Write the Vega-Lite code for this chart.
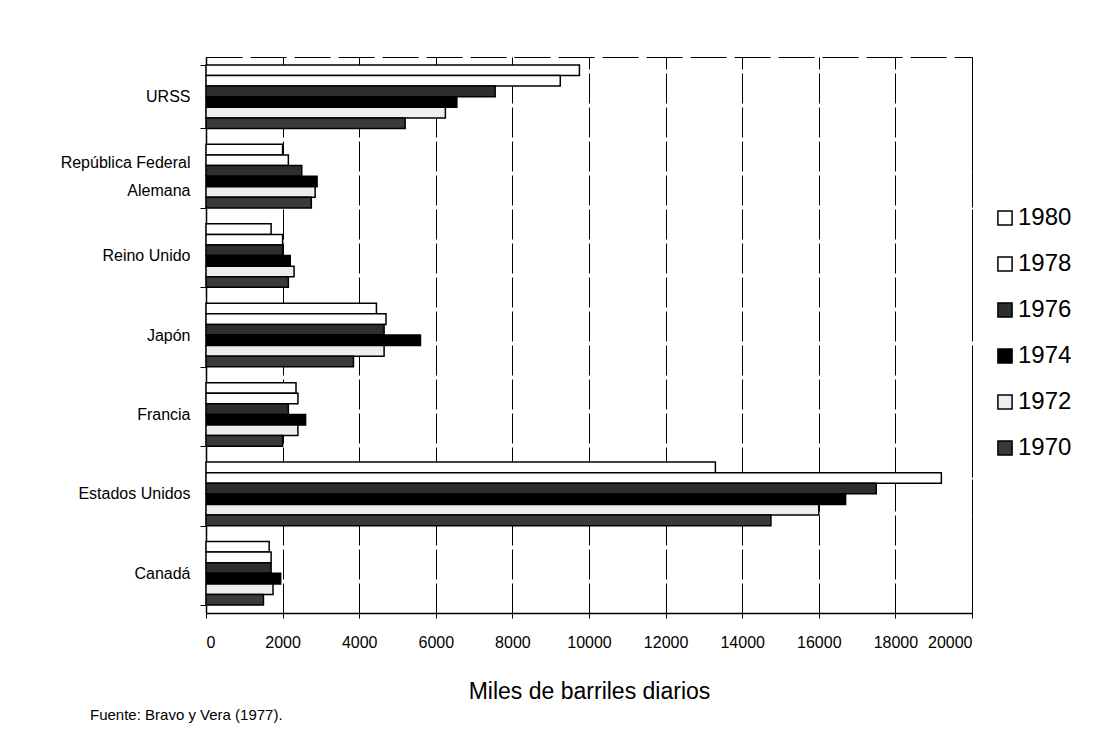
{
  "$schema": "https://vega.github.io/schema/vega-lite/v6.json",
  "autosize": {"type": "none"},
  "padding": {"left": 206, "top": 57, "right": 124, "bottom": 130},
  "width": 766,
  "height": 556,
  "background": "white",
  "config": {
    "font": "Liberation Sans",
    "view": {"stroke": "black", "strokeWidth": 1, "strokeDash": [36, 8]},
    "axis": {"labelColor": "black", "titleColor": "black", "domainColor": "black", "tickColor": "black"}
  },
  "title": {
    "text": "Fuente: Bravo y Vera (1977).",
    "orient": "bottom",
    "anchor": "start",
    "frame": "group",
    "dx": -116,
    "offset": 5,
    "fontSize": 15,
    "fontWeight": "normal",
    "font": "Liberation Sans",
    "color": "black"
  },
  "data": {
    "values": [
      {"pais": "URSS", "anio": "1980", "valor": 9750},
      {"pais": "URSS", "anio": "1978", "valor": 9250},
      {"pais": "URSS", "anio": "1976", "valor": 7550},
      {"pais": "URSS", "anio": "1974", "valor": 6550},
      {"pais": "URSS", "anio": "1972", "valor": 6250},
      {"pais": "URSS", "anio": "1970", "valor": 5200},
      {"pais": "República Federal Alemana", "anio": "1980", "valor": 2000},
      {"pais": "República Federal Alemana", "anio": "1978", "valor": 2150},
      {"pais": "República Federal Alemana", "anio": "1976", "valor": 2500},
      {"pais": "República Federal Alemana", "anio": "1974", "valor": 2900},
      {"pais": "República Federal Alemana", "anio": "1972", "valor": 2850},
      {"pais": "República Federal Alemana", "anio": "1970", "valor": 2750},
      {"pais": "Reino Unido", "anio": "1980", "valor": 1700},
      {"pais": "Reino Unido", "anio": "1978", "valor": 2000},
      {"pais": "Reino Unido", "anio": "1976", "valor": 2000},
      {"pais": "Reino Unido", "anio": "1974", "valor": 2200},
      {"pais": "Reino Unido", "anio": "1972", "valor": 2300},
      {"pais": "Reino Unido", "anio": "1970", "valor": 2150},
      {"pais": "Japón", "anio": "1980", "valor": 4450},
      {"pais": "Japón", "anio": "1978", "valor": 4700},
      {"pais": "Japón", "anio": "1976", "valor": 4650},
      {"pais": "Japón", "anio": "1974", "valor": 5600},
      {"pais": "Japón", "anio": "1972", "valor": 4650},
      {"pais": "Japón", "anio": "1970", "valor": 3850},
      {"pais": "Francia", "anio": "1980", "valor": 2350},
      {"pais": "Francia", "anio": "1978", "valor": 2400},
      {"pais": "Francia", "anio": "1976", "valor": 2150},
      {"pais": "Francia", "anio": "1974", "valor": 2600},
      {"pais": "Francia", "anio": "1972", "valor": 2400},
      {"pais": "Francia", "anio": "1970", "valor": 2000},
      {"pais": "Estados Unidos", "anio": "1980", "valor": 13300},
      {"pais": "Estados Unidos", "anio": "1978", "valor": 19200},
      {"pais": "Estados Unidos", "anio": "1976", "valor": 17500},
      {"pais": "Estados Unidos", "anio": "1974", "valor": 16700},
      {"pais": "Estados Unidos", "anio": "1972", "valor": 16000},
      {"pais": "Estados Unidos", "anio": "1970", "valor": 14750},
      {"pais": "Canadá", "anio": "1980", "valor": 1650},
      {"pais": "Canadá", "anio": "1978", "valor": 1700},
      {"pais": "Canadá", "anio": "1976", "valor": 1700},
      {"pais": "Canadá", "anio": "1974", "valor": 1950},
      {"pais": "Canadá", "anio": "1972", "valor": 1750},
      {"pais": "Canadá", "anio": "1970", "valor": 1500}
    ]
  },
  "mark": {"type": "bar", "stroke": "black", "strokeWidth": 1.5, "opacity": 1},
  "encoding": {
    "y": {
      "field": "pais",
      "type": "nominal",
      "sort": ["URSS", "República Federal Alemana", "Reino Unido", "Japón", "Francia", "Estados Unidos", "Canadá"],
      "scale": {"paddingInner": 0.2, "paddingOuter": 0.1},
      "axis": {
        "title": null,
        "labelFontSize": 16,
        "labelPadding": 10,
        "tickSize": 6,
        "tickBand": "extent",
        "domainWidth": 1.5,
        "labelLineHeight": 28,
        "labelOffset": {"condition": {"test": "datum.value == 'República Federal Alemana'", "value": -14}, "value": 0},
        "labelExpr": "datum.value == 'República Federal Alemana' ? ['República Federal', 'Alemana'] : datum.value"
      }
    },
    "yOffset": {
      "field": "anio",
      "type": "nominal",
      "sort": ["1980", "1978", "1976", "1974", "1972", "1970"],
      "scale": {"paddingInner": 0, "paddingOuter": 0}
    },
    "x": {
      "field": "valor",
      "type": "quantitative",
      "scale": {"domain": [0, 20000], "nice": false},
      "axis": {
        "title": "Miles de barriles diarios",
        "titleFontSize": 23,
        "titleFontWeight": "normal",
        "titlePadding": 30,
        "values": [0, 2000, 4000, 6000, 8000, 10000, 12000, 14000, 16000, 18000, 20000],
        "format": "d",
        "labelFontSize": 16,
        "labelPadding": 16,
        "tickSize": 5,
        "domainWidth": 1.5,
        "grid": true,
        "gridColor": "black",
        "gridWidth": 1,
        "gridDash": [30, 4],
        "gridOpacity": 1
      }
    },
    "fill": {
      "field": "anio",
      "type": "nominal",
      "sort": ["1980", "1978", "1976", "1974", "1972", "1970"],
      "scale": {
        "domain": ["1980", "1978", "1976", "1974", "1972", "1970"],
        "range": ["#ffffff", "#ffffff", "#2e2e2e", "#000000", "#eeeeee", "#3a3a3a"]
      },
      "legend": {
        "title": null,
        "orient": "none",
        "legendX": 787,
        "legendY": 149,
        "symbolType": "square",
        "symbolSize": 200,
        "symbolStrokeColor": "black",
        "symbolStrokeWidth": 1.5,
        "symbolOpacity": 1,
        "labelFontSize": 24,
        "labelColor": "black",
        "labelOffset": 1,
        "rowPadding": 22
      }
    }
  }
}
